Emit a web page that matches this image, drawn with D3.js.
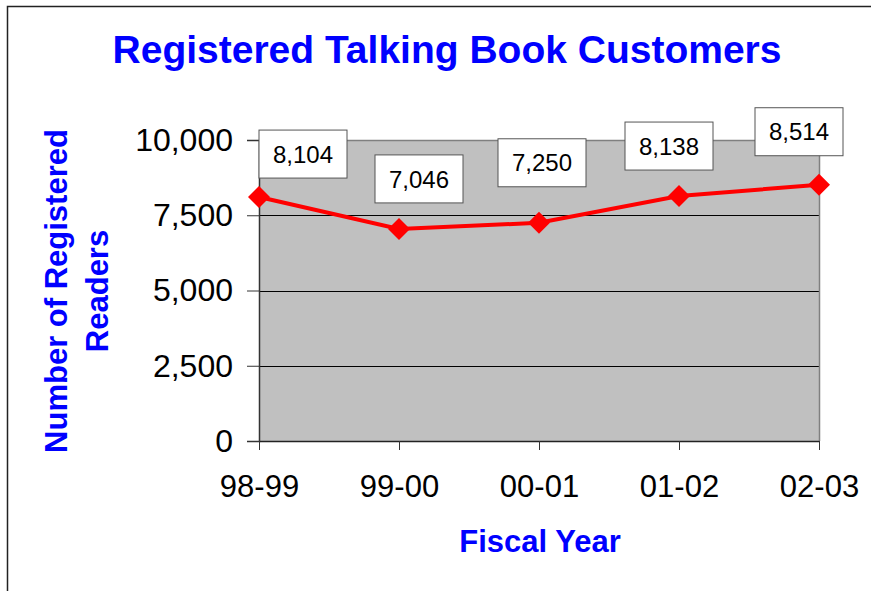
<!DOCTYPE html>
<html>
<head>
<meta charset="utf-8">
<script src="https://cdn.jsdelivr.net/npm/d3@7"></script>
<style>
  html, body { margin: 0; padding: 0; background: #fff; }
  svg { display: block; font-family: "Liberation Sans", Arial, sans-serif; }
</style>
</head>
<body>
<div id="chart"></div>
<script>
// Chart data
const fiscalYears = ["98-99", "99-00", "00-01", "01-02", "02-03"];
const readers = [8104, 7046, 7250, 8138, 8514];
const yTicks = [0, 2500, 5000, 7500, 10000];

const width = 871, height = 591;
const plot = { left: 259, right: 819, top: 140, bottom: 441 };

const svg = d3.select("#chart").append("svg")
    .attr("width", width)
    .attr("height", height);

// outer frame (only top and left edges are visible in the original)
svg.append("path")
    .attr("d", `M7.5,${height} V6.5 H${width}`)
    .attr("fill", "none")
    .attr("stroke", "#222")
    .attr("stroke-width", 1.5);

const x = d3.scalePoint()
    .domain(fiscalYears)
    .range([plot.left, plot.right]);

const y = d3.scaleLinear()
    .domain([0, 10000])
    .range([plot.bottom, plot.top]);

const fmt = d3.format(",");

// plot background
svg.append("rect")
    .attr("x", plot.left)
    .attr("y", plot.top)
    .attr("width", plot.right - plot.left)
    .attr("height", plot.bottom - plot.top)
    .attr("fill", "#c0c0c0");

// gridlines
svg.append("g")
    .selectAll("line")
    .data(yTicks.filter(d => d > 0 && d < 10000))
    .enter()
    .append("line")
    .attr("x1", plot.left)
    .attr("x2", plot.right)
    .attr("y1", d => Math.round(y(d)) + 0.5)
    .attr("y2", d => Math.round(y(d)) + 0.5)
    .attr("stroke", "#000")
    .attr("stroke-width", 1);

// top and right border of the plot area
svg.append("path")
    .attr("d", `M${plot.left},${plot.top + 0.5} H${plot.right + 0.5} V${plot.bottom}`)
    .attr("fill", "none")
    .attr("stroke", "#808080")
    .attr("stroke-width", 1.5);

// y axis
const yAxis = svg.append("g")
    .attr("transform", `translate(${plot.left},0)`)
    .call(d3.axisLeft(y).tickValues(yTicks).tickFormat(fmt).tickSize(12).tickPadding(14));
yAxis.select(".domain").attr("stroke", "#333").attr("stroke-width", 1.5);
yAxis.selectAll(".tick line").attr("stroke", "#333");
yAxis.selectAll("text")
    .attr("font-size", 32)
    .attr("fill", "#000")
    .attr("font-family", "Liberation Sans, Arial, sans-serif");

// x axis
const xAxis = svg.append("g")
    .attr("transform", `translate(0,${plot.bottom})`)
    .call(d3.axisBottom(x).tickSize(9).tickSizeOuter(0).tickPadding(25));
xAxis.select(".domain").attr("stroke", "#222").attr("stroke-width", 1.5);
xAxis.selectAll(".tick line").attr("stroke", "#333");
xAxis.selectAll("text")
    .attr("font-size", 31)
    .attr("fill", "#000")
    .attr("font-family", "Liberation Sans, Arial, sans-serif");

// line
const line = d3.line()
    .x((d, i) => x(fiscalYears[i]))
    .y(d => y(d));

svg.append("path")
    .datum(readers)
    .attr("d", line)
    .attr("fill", "none")
    .attr("stroke", "#ff0000")
    .attr("stroke-width", 4);

// diamond markers
const r = 11;
svg.append("g")
    .selectAll("path")
    .data(readers)
    .enter()
    .append("path")
    .attr("transform", (d, i) => `translate(${x(fiscalYears[i])},${y(d)})`)
    .attr("d", `M0,${-r} L${r},0 L0,${r} L${-r},0 Z`)
    .attr("fill", "#ff0000");

// data labels, nudged like the hand-placed labels of the original
const labelNudge = [[44, -43], [20, -50], [3, -60], [-10, -50], [-20, -53]];
const boxW = 88, boxH = 48;
const labels = svg.append("g")
    .selectAll("g")
    .data(readers)
    .enter()
    .append("g")
    .attr("transform", (d, i) =>
        `translate(${x(fiscalYears[i]) + labelNudge[i][0]},${y(d) + labelNudge[i][1]})`);

labels.append("rect")
    .attr("x", -boxW / 2)
    .attr("y", -boxH / 2)
    .attr("width", boxW)
    .attr("height", boxH)
    .attr("fill", "#fff")
    .attr("stroke", "#555")
    .attr("stroke-width", 1);

labels.append("text")
    .attr("text-anchor", "middle")
    .attr("dy", "0.36em")
    .attr("font-size", 24)
    .attr("fill", "#000")
    .text(d => fmt(d));

// title
svg.append("text")
    .attr("x", 447)
    .attr("y", 63)
    .attr("text-anchor", "middle")
    .attr("font-size", 39)
    .attr("font-weight", "bold")
    .attr("fill", "#0000ff")
    .text("Registered Talking Book Customers");

// x axis title
svg.append("text")
    .attr("x", 540)
    .attr("y", 552)
    .attr("text-anchor", "middle")
    .attr("font-size", 31)
    .attr("font-weight", "bold")
    .attr("fill", "#0000ff")
    .text("Fiscal Year");

// y axis title, two lines
const yTitle = svg.append("text")
    .attr("transform", "translate(67,291) rotate(-90)")
    .attr("text-anchor", "middle")
    .attr("font-size", 31)
    .attr("font-weight", "bold")
    .attr("fill", "#0000ff");
yTitle.append("tspan").attr("x", 0).attr("y", 0).text("Number of Registered");
yTitle.append("tspan").attr("x", 0).attr("y", 41).text("Readers");
</script>
</body>
</html>
